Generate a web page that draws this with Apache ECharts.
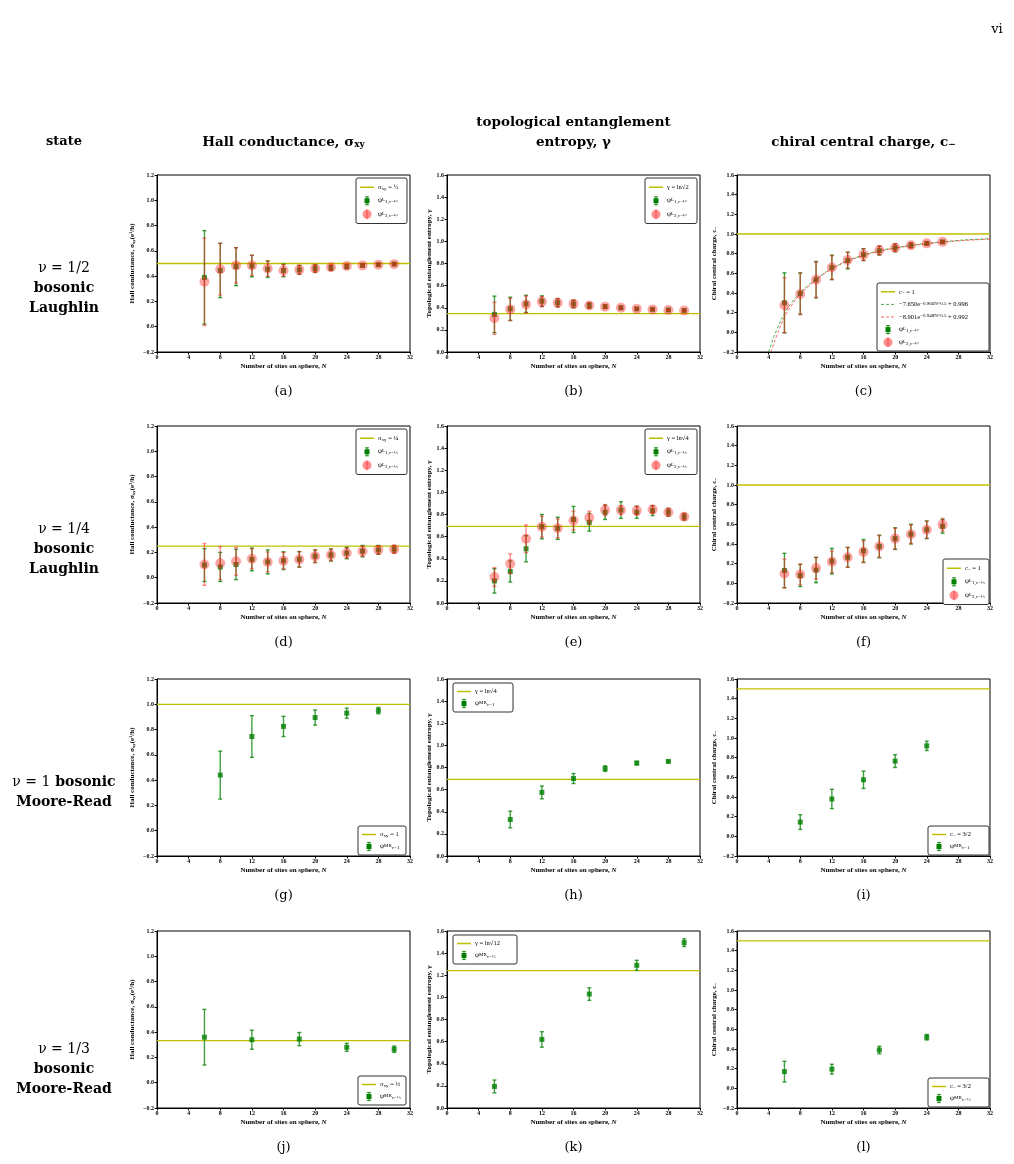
<!DOCTYPE html>
<html lang="en">
<head>
<meta charset="UTF-8">
<title>bosonic states on the sphere</title>
<script src="https://cdn.jsdelivr.net/npm/echarts@6/dist/echarts.min.js"></script>
<style>
  html, body { margin: 0; padding: 0; background: #fff; }
  #main { width: 1014px; height: 1164px; }
</style>
</head>
<body>
<div id="main"></div>
<script>
// ---- data ----
// row 1: nu=1/2 bosonic Laughlin
let aN = [6, 8, 10, 12, 14, 16, 18, 20, 22, 24, 26, 28, 30]
let aG = [0.39, 0.445, 0.475, 0.48, 0.455, 0.445, 0.45, 0.46, 0.465, 0.475, 0.485, 0.49, 0.495]
let aGerr = [0.37, 0.215, 0.15, 0.085, 0.065, 0.05, 0.035, 0.03, 0.02, 0.015, 0.01, 0.01, 0.008]
let aR = [0.355, 0.455, 0.485, 0.485, 0.46, 0.445, 0.45, 0.46, 0.47, 0.48, 0.485, 0.49, 0.495]
let aRerr = [0.345, 0.205, 0.14, 0.08, 0.06, 0.045, 0.035, 0.025, 0.02, 0.015, 0.01, 0.01, 0.008]

let bN = [6, 8, 10, 12, 14, 16, 18, 20, 22, 24, 26, 28, 30]
let bG = [0.34, 0.39, 0.435, 0.46, 0.445, 0.435, 0.42, 0.41, 0.40, 0.39, 0.385, 0.38, 0.375]
let bGerr = [0.165, 0.105, 0.078, 0.048, 0.038, 0.035, 0.025, 0.015, 0.012, 0.01, 0.008, 0.007, 0.006]
let bR = [0.305, 0.385, 0.43, 0.455, 0.445, 0.435, 0.42, 0.41, 0.40, 0.39, 0.385, 0.38, 0.375]
let bRerr = [0.145, 0.1, 0.075, 0.045, 0.035, 0.03, 0.022, 0.015, 0.012, 0.01, 0.008, 0.007, 0.006]

let cN = [6, 8, 10, 12, 14, 16, 18, 20, 22, 24, 26]
let cG = [0.30, 0.395, 0.535, 0.66, 0.73, 0.79, 0.83, 0.86, 0.885, 0.905, 0.92]
let cGerr = [0.305, 0.21, 0.185, 0.125, 0.085, 0.06, 0.045, 0.04, 0.025, 0.015, 0.01]
let cR = [0.275, 0.39, 0.535, 0.66, 0.735, 0.79, 0.835, 0.86, 0.885, 0.905, 0.92]
let cRerr = [0.28, 0.21, 0.18, 0.12, 0.08, 0.06, 0.045, 0.035, 0.025, 0.015, 0.01]
// dashed fit curves
let fitG = [[4, -0.2], [4.5, -0.08], [5, 0.02], [6, 0.19], [7, 0.31], [8, 0.40], [9, 0.48], [10, 0.54], [11, 0.60], [12, 0.65], [13, 0.69], [14, 0.73], [16, 0.785], [18, 0.83], [20, 0.86], [22, 0.885], [24, 0.905], [26, 0.92], [28, 0.935], [30, 0.945], [32, 0.952]]
let fitR = [[4.3, -0.2], [5, -0.04], [6, 0.15], [7, 0.285], [8, 0.385], [9, 0.465], [10, 0.535], [11, 0.595], [12, 0.645], [13, 0.69], [14, 0.725], [16, 0.78], [18, 0.825], [20, 0.855], [22, 0.88], [24, 0.9], [26, 0.915], [28, 0.93], [30, 0.94], [32, 0.948]]

// row 2: nu=1/4 bosonic Laughlin
let dN = [6, 8, 10, 12, 14, 16, 18, 20, 22, 24, 26, 28, 30]
let dG = [0.10, 0.085, 0.105, 0.145, 0.125, 0.135, 0.145, 0.17, 0.18, 0.195, 0.21, 0.22, 0.225]
let dGerr = [0.13, 0.115, 0.12, 0.09, 0.095, 0.07, 0.062, 0.05, 0.048, 0.045, 0.045, 0.035, 0.03]
let dR = [0.105, 0.115, 0.13, 0.15, 0.125, 0.135, 0.145, 0.17, 0.18, 0.195, 0.21, 0.22, 0.225]
let dRerr = [0.165, 0.13, 0.11, 0.078, 0.078, 0.065, 0.06, 0.05, 0.045, 0.04, 0.04, 0.032, 0.028]

let eN = [6, 8, 10, 12, 14, 16, 18, 20, 22, 24, 26, 28, 30]
let eG = [0.20, 0.285, 0.49, 0.69, 0.675, 0.755, 0.73, 0.82, 0.84, 0.82, 0.835, 0.82, 0.78]
let eGerr = [0.11, 0.095, 0.118, 0.11, 0.1, 0.118, 0.08, 0.065, 0.075, 0.055, 0.045, 0.035, 0.03]
let eR = [0.235, 0.355, 0.58, 0.69, 0.675, 0.745, 0.77, 0.84, 0.84, 0.835, 0.845, 0.82, 0.78]
let eRerr = [0.085, 0.09, 0.125, 0.095, 0.085, 0.085, 0.06, 0.05, 0.04, 0.04, 0.035, 0.03, 0.025]

let fN = [6, 8, 10, 12, 14, 16, 18, 20, 22, 24, 26]
let fG = [0.13, 0.08, 0.135, 0.225, 0.265, 0.33, 0.375, 0.455, 0.50, 0.545, 0.58]
let fGerr = [0.175, 0.113, 0.128, 0.13, 0.1, 0.115, 0.115, 0.11, 0.1, 0.09, 0.07]
let fR = [0.10, 0.09, 0.155, 0.22, 0.265, 0.32, 0.375, 0.455, 0.50, 0.545, 0.595]
let fRerr = [0.145, 0.105, 0.11, 0.11, 0.1, 0.11, 0.11, 0.105, 0.095, 0.085, 0.065]

// row 3: nu=1 bosonic Moore-Read
let gN = [8, 12, 16, 20, 24, 28]
let gV = [0.44, 0.745, 0.825, 0.895, 0.93, 0.95]
let gErr = [0.19, 0.165, 0.08, 0.06, 0.04, 0.025]
let hN = [8, 12, 16, 20, 24, 28]
let hV = [0.33, 0.575, 0.70, 0.79, 0.84, 0.855]
let hErr = [0.075, 0.058, 0.045, 0.025, 0.015, 0.01]
let iN = [8, 12, 16, 20, 24]
let iV = [0.145, 0.38, 0.575, 0.765, 0.92]
let iErr = [0.075, 0.098, 0.088, 0.065, 0.047]

// row 4: nu=1/3 bosonic Moore-Read
let jN = [6, 12, 18, 24, 30]
let jV = [0.36, 0.34, 0.345, 0.28, 0.265]
let jErr = [0.22, 0.075, 0.052, 0.032, 0.025]
let kN = [6, 12, 18, 24, 30]
let kV = [0.195, 0.62, 1.03, 1.29, 1.495]
let kErr = [0.058, 0.07, 0.057, 0.045, 0.035]
let lN = [6, 12, 18, 24]
let lV = [0.17, 0.195, 0.39, 0.52]
let lErr = [0.105, 0.05, 0.038, 0.028]

// horizontal reference values (a..l)
let refVals = [0.5, 0.3466, 1.0, 0.25, 0.6931, 1.0, 1.0, 0.6931, 1.5, 0.3333, 1.2425, 1.5]

// ---- layout ----
const FF = '"Liberation Serif", "DejaVu Serif", serif'
const FH = '"DejaVu Serif", "Liberation Serif", serif'
const colX = [157, 447, 737]
const rowY = [175, 426, 679, 931]
const PW = 253, PH = 177
const yRange = [[-0.2, 1.2], [0, 1.6], [-0.2, 1.6]]
const yNames = ['Hall conductance, σ{sub|xy}(e²/h)', 'Topological entanglement entropy, γ', 'Chiral central charge, c{sub|−}']
const yGap = [21, 14, 19]
const yel = '#bfbf00'
const green = '#008000'
const greenBar = 'rgba(0,128,0,0.75)'
const redC = 'rgba(255,30,30,0.5)'

const rich = {
  sub: { fontSize: 5, verticalAlign: 'bottom', fontFamily: FF },
  sup: { fontSize: 5, verticalAlign: 'top', fontFamily: FF },
  i: { fontStyle: 'italic', fontFamily: FF, fontWeight: 'bold', fontSize: 7 }
}

function triples(xs, ys, es) {
  return xs.map((x, k) => [x, ys[k] - es[k], ys[k] + es[k]])
}
function pairs(xs, ys) {
  return xs.map((x, k) => [x, ys[k]])
}

// error bars drawn through the axis coordinate system
function errRender(color, cap, width) {
  return function (params, api) {
    const x = api.value(0), lo = api.value(1), hi = api.value(2)
    const p1 = api.coord([x, hi]), p2 = api.coord([x, lo])
    const st = { stroke: color, lineWidth: width }
    return {
      type: 'group', children: [
        { type: 'line', shape: { x1: p1[0], y1: p1[1], x2: p2[0], y2: p2[1] }, style: st },
        { type: 'line', shape: { x1: p1[0] - cap, y1: p1[1], x2: p1[0] + cap, y2: p1[1] }, style: st },
        { type: 'line', shape: { x1: p2[0] - cap, y1: p2[1], x2: p2[0] + cap, y2: p2[1] }, style: st }
      ]
    }
  }
}

const psiL = (k, f) => 'ψ{sup|L}{sub|' + k + ',ν=' + f + '}'
const psiMR = f => 'ψ{sup|MR}{sub|ν=' + f + '}'

let panels = [
  { r: 0, c: 0, cap: '(a)', g: [aN, aG, aGerr], red: [aR, aRerr],
    leg: { x: 356, y: 178, w: 51, rh: 13.5, items: [['ref', 'σ{sub|xy} = ½'], ['g', psiL(1, '½')], ['r', psiL(2, '½')]] } },
  { r: 0, c: 1, cap: '(b)', g: [bN, bG, bGerr], red: [bR, bRerr],
    leg: { x: 645, y: 178, w: 52, rh: 13.5, items: [['ref', 'γ = ln√2'], ['g', psiL(1, '½')], ['r', psiL(2, '½')]] } },
  { r: 0, c: 2, cap: '(c)', g: [cN, cG, cGerr], red: [cR, cRerr], fit: true,
    leg: { x: 877, y: 283, w: 112, rh: 12.6, items: [['ref', 'c{sub|−} = 1'], ['dg', '−7.650e{sup|−0.966N^0.5} + 0.996'], ['dr', '−8.901e{sup|−0.948N^0.5} + 0.992'], ['g', psiL(1, '½')], ['r', psiL(2, '½')]] } },
  { r: 1, c: 0, cap: '(d)', g: [dN, dG, dGerr], red: [dR, dRerr],
    leg: { x: 356, y: 429, w: 51, rh: 13.5, items: [['ref', 'σ{sub|xy} = ¼'], ['g', psiL(1, '¼')], ['r', psiL(2, '¼')]] } },
  { r: 1, c: 1, cap: '(e)', g: [eN, eG, eGerr], red: [eR, eRerr],
    leg: { x: 645, y: 429, w: 52, rh: 13.5, items: [['ref', 'γ = ln√4'], ['g', psiL(1, '¼')], ['r', psiL(2, '¼')]] } },
  { r: 1, c: 2, cap: '(f)', g: [fN, fG, fGerr], red: [fR, fRerr],
    leg: { x: 943, y: 559, w: 46, rh: 13.5, items: [['ref', 'c{sub|−} = 1'], ['g', psiL(1, '¼')], ['r', psiL(2, '¼')]] } },
  { r: 2, c: 0, cap: '(g)', g: [gN, gV, gErr],
    leg: { x: 358, y: 826, w: 48, rh: 12, items: [['ref', 'σ{sub|xy} = 1'], ['g', psiMR('1')]] } },
  { r: 2, c: 1, cap: '(h)', g: [hN, hV, hErr],
    leg: { x: 453, y: 683, w: 60, rh: 12, items: [['ref', 'γ = ln√4'], ['g', psiMR('1')]] } },
  { r: 2, c: 2, cap: '(i)', g: [iN, iV, iErr],
    leg: { x: 928, y: 826, w: 61, rh: 12, items: [['ref', 'c{sub|−} = 3/2'], ['g', psiMR('1')]] } },
  { r: 3, c: 0, cap: '(j)', g: [jN, jV, jErr],
    leg: { x: 358, y: 1076, w: 48, rh: 12, items: [['ref', 'σ{sub|xy} = ⅓'], ['g', psiMR('⅓')]] } },
  { r: 3, c: 1, cap: '(k)', g: [kN, kV, kErr],
    leg: { x: 453, y: 935, w: 64, rh: 12, items: [['ref', 'γ = ln√12'], ['g', psiMR('⅓')]] } },
  { r: 3, c: 2, cap: '(l)', g: [lN, lV, lErr],
    leg: { x: 928, y: 1078, w: 61, rh: 12, items: [['ref', 'c{sub|−} = 3/2'], ['g', psiMR('⅓')]] } }
]

function seg(x1, y1, x2, y2, color, w, dash) {
  return { type: 'line', shape: { x1, y1, x2, y2 }, style: { stroke: color, lineWidth: w, lineDash: dash || null }, z: 101 }
}

function legendEls(L) {
  const h = L.items.length * L.rh + 5
  const els = [{ type: 'rect', shape: { x: L.x, y: L.y, width: L.w, height: h, r: 2 }, style: { fill: '#fff', stroke: '#333', lineWidth: 1 }, z: 100 }]
  L.items.forEach((it, n) => {
    const cy = L.y + 2.5 + L.rh * n + L.rh / 2
    const sx = L.x + 4, ex = L.x + 18, mx = L.x + 11
    const k = it[0]
    if (k === 'ref') els.push(seg(sx, cy, ex, cy, yel, 1.5))
    if (k === 'dg') els.push(seg(sx, cy, ex, cy, 'rgba(0,140,0,0.7)', 1, [3, 2]))
    if (k === 'dr') els.push(seg(sx, cy, ex, cy, 'rgba(255,0,0,0.6)', 1, [3, 2]))
    if (k === 'g') {
      els.push(seg(mx, cy - 4, mx, cy + 4, greenBar, 1.3))
      els.push(seg(mx - 2, cy - 4, mx + 2, cy - 4, greenBar, 1.2))
      els.push(seg(mx - 2, cy + 4, mx + 2, cy + 4, greenBar, 1.2))
      els.push({ type: 'rect', shape: { x: mx - 2.5, y: cy - 2.5, width: 5, height: 5 }, style: { fill: green }, z: 102 })
    }
    if (k === 'r') {
      els.push(seg(mx, cy - 5, mx, cy + 5, redC, 1.3))
      els.push({ type: 'circle', shape: { cx: mx, cy, r: 4.5 }, style: { fill: redC }, z: 102 })
    }
    els.push({
      type: 'text', x: L.x + 22, y: cy, z: 103,
      style: { text: it[1], rich, fontSize: 6.5, fontFamily: FF, fill: '#000', align: 'left', verticalAlign: 'middle', textAlign: 'left', textVerticalAlign: 'middle' }
    })
  })
  return els
}

function tick(v) {
  const s = Math.abs(v).toFixed(1)
  return v < -1e-9 ? '−' + s : s
}

let grids = [], xAxes = [], yAxes = [], series = [], graphics = []

panels.forEach((p, i) => {
  const left = colX[p.c], top = rowY[p.r]
  grids.push({ left, top, width: PW, height: PH, show: true, borderColor: '#000', borderWidth: 1, backgroundColor: 'transparent' })
  xAxes.push({
    gridIndex: i, type: 'value', min: 0, max: 32, interval: 4,
    name: 'Number of sites on sphere, {i|N}', nameLocation: 'middle', nameGap: 11,
    nameTextStyle: { fontSize: 7, fontWeight: 'bold', fontFamily: FF, color: '#000', rich },
    axisLine: { onZero: false, lineStyle: { color: '#000', width: 1 } },
    axisTick: { length: 2.5, lineStyle: { color: '#000' } },
    axisLabel: { fontSize: 6, fontWeight: 'bold', fontFamily: FF, color: '#000', margin: 2 },
    splitLine: { show: false }
  })
  yAxes.push({
    gridIndex: i, type: 'value', min: yRange[p.c][0], max: yRange[p.c][1], interval: 0.2,
    name: yNames[p.c], nameLocation: 'middle', nameGap: yGap[p.c],
    nameTextStyle: { fontSize: 7, fontWeight: 'bold', fontFamily: FF, color: '#000', rich },
    axisLine: { onZero: false, lineStyle: { color: '#000', width: 1 } },
    axisTick: { length: 2.5, lineStyle: { color: '#000' } },
    axisLabel: { fontSize: 6, fontWeight: 'bold', fontFamily: FF, color: '#000', margin: 3, formatter: tick },
    splitLine: { show: false }
  })

  const ax = { xAxisIndex: i, yAxisIndex: i, silent: true, animation: false }
  series.push(Object.assign({ type: 'line', data: [[0, refVals[i]], [32, refVals[i]]], symbol: 'none', lineStyle: { color: yel, width: 1.3 }, z: 2 }, ax))
  if (p.fit) {
    series.push(Object.assign({ type: 'line', data: fitG, smooth: true, symbol: 'none', lineStyle: { color: 'rgba(0,140,0,0.7)', width: 1, type: [3, 2] }, z: 3 }, ax))
    series.push(Object.assign({ type: 'line', data: fitR, smooth: true, symbol: 'none', lineStyle: { color: 'rgba(255,0,0,0.6)', width: 1, type: [3, 2] }, z: 3 }, ax))
  }
  const N = p.g[0]
  series.push(Object.assign({ type: 'custom', data: triples(N, p.g[1], p.g[2]), renderItem: errRender(greenBar, 2, 1.4), z: 4 }, ax))
  series.push(Object.assign({ type: 'scatter', data: pairs(N, p.g[1]), symbol: 'rect', symbolSize: 5, itemStyle: { color: green }, z: 5 }, ax))
  if (p.red) {
    series.push(Object.assign({ type: 'custom', data: triples(N, p.red[0], p.red[1]), renderItem: errRender(redC, 2, 1.4), z: 6 }, ax))
    series.push(Object.assign({ type: 'scatter', data: pairs(N, p.red[0]), symbol: 'circle', symbolSize: 10, itemStyle: { color: redC }, z: 7 }, ax))
  }
  graphics.push(...legendEls(p.leg))
  graphics.push({ type: 'text', x: left + PW / 2, y: top + 217, style: { text: p.cap, fontSize: 13, fontFamily: FH, fill: '#000', align: 'center', verticalAlign: 'middle', textAlign: 'center', textVerticalAlign: 'middle' } })
})

// headers and row labels
const bigRich = {
  sub: { fontSize: 9, verticalAlign: 'bottom', fontFamily: FH, fontWeight: 'bold' },
  n: { fontSize: 14, fontWeight: 'normal', fontFamily: FH },
  b: { fontSize: 14, fontWeight: 'bold', fontFamily: FH }
}
function label(x, y, text, size, weight) {
  return { type: 'text', x, y, style: { text, rich: bigRich, fontSize: size, fontWeight: weight, fontFamily: FH, fill: '#000', align: 'center', verticalAlign: 'middle', textAlign: 'center', textVerticalAlign: 'middle' } }
}
graphics.push(label(997, 30, 'vi', 13, 'normal'))
graphics.push(label(64, 142, 'state', 13, 'bold'))
graphics.push(label(colX[0] + PW / 2, 142, 'Hall conductance, σ{sub|xy}', 13.5, 'bold'))
graphics.push(label(colX[1] + PW / 2, 122, 'topological entanglement', 13.5, 'bold'))
graphics.push(label(colX[1] + PW / 2, 142, 'entropy, γ', 13.5, 'bold'))
graphics.push(label(colX[2] + PW / 2, 142, 'chiral central charge, c{sub|−}', 13.5, 'bold'))

const rowText = [
  ['{n|ν = 1/2}', '{b|bosonic}', '{b|Laughlin}'],
  ['{n|ν = 1/4}', '{b|bosonic}', '{b|Laughlin}'],
  ['{n|ν = 1} {b|bosonic}', '{b|Moore-Read}'],
  ['{n|ν = 1/3}', '{b|bosonic}', '{b|Moore-Read}']
]
const rowShift = [25, 35, 25, 50]
rowText.forEach((lines, r) => {
  const mid = rowY[r] + PH / 2 + rowShift[r]
  const start = mid - (lines.length - 1) * 10
  lines.forEach((t, k) => graphics.push(label(64, start + k * 20, t, 14, 'bold')))
})

let chart = echarts.init(document.getElementById('main'), null, { renderer: 'canvas' })
chart.setOption({
  animation: false,
  backgroundColor: '#fff',
  grid: grids,
  xAxis: xAxes,
  yAxis: yAxes,
  series: series,
  graphic: graphics
})
</script>
</body>
</html>
